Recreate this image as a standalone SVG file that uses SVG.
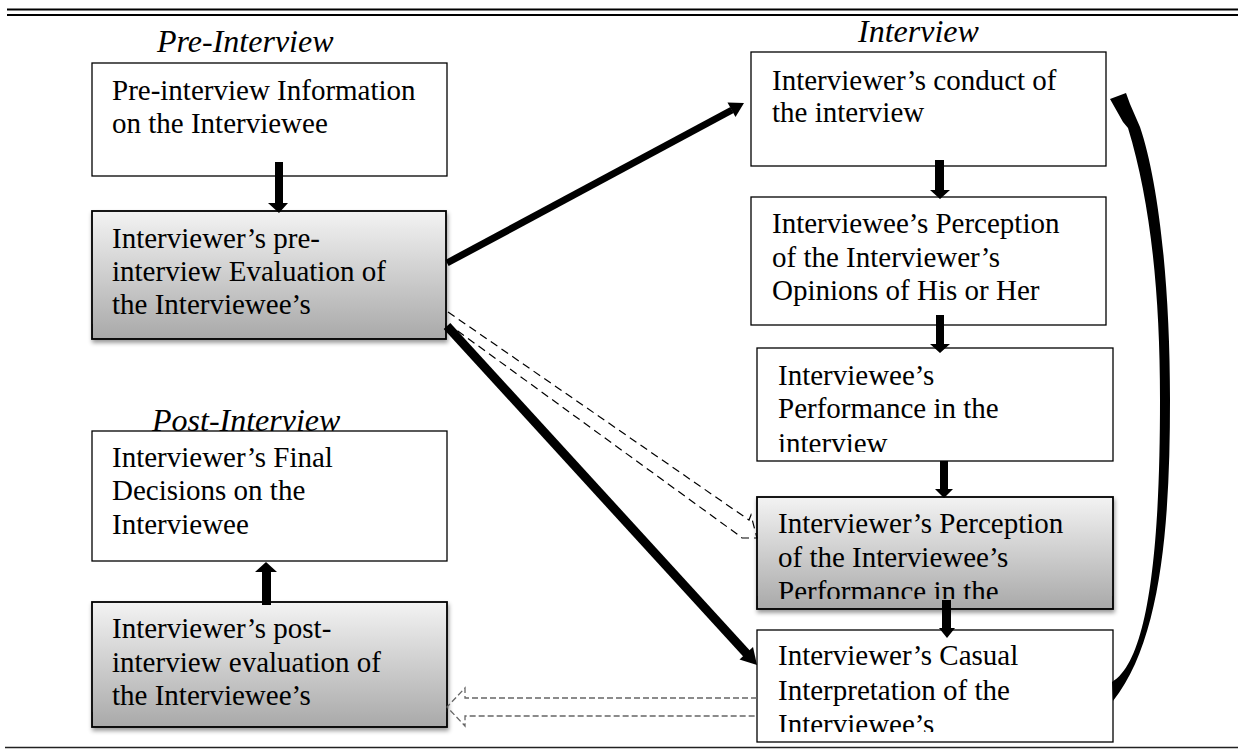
<svg xmlns="http://www.w3.org/2000/svg" width="1238" height="749" viewBox="0 0 1238 749">
<style>
.box{fill:#fff;stroke:#000;stroke-width:1.3}
.gbox{fill:url(#g);stroke:#000;stroke-width:1.8;filter:url(#sh)}
.t{font-family:"Liberation Serif","Times New Roman",serif;font-size:29px;fill:#000}
.h{font-family:"Liberation Serif","Times New Roman",serif;font-size:32px;font-style:italic;fill:#000}
.blk{fill:#000}
.dash{fill:none;stroke:#000;stroke-width:1.2;stroke-dasharray:8 5}
.dashg{fill:none;stroke:#666;stroke-width:1.3;stroke-dasharray:6 3}
</style>
<defs>
<linearGradient id="g" x1="0" y1="0" x2="0" y2="1">
<stop offset="0" stop-color="#f3f3f3"/>
<stop offset="1" stop-color="#a9a9a9"/>
</linearGradient>
<filter id="sh" x="-5%" y="-5%" width="115%" height="125%">
<feDropShadow dx="1" dy="3" stdDeviation="2" flood-color="#000" flood-opacity="0.4"/>
</filter>
<clipPath id="c3"><rect x="757" y="348" width="356" height="104"/></clipPath>
<clipPath id="c4"><rect x="757" y="497" width="356" height="102"/></clipPath>
<clipPath id="c5"><rect x="757" y="630" width="356" height="102"/></clipPath>
</defs>
<rect width="1238" height="749" fill="#fff"/>
<g id="rules">
<line x1="7" y1="9.5" x2="1238" y2="9.5" stroke="#000" stroke-width="2.2"/>
<line x1="7" y1="15" x2="1238" y2="15" stroke="#000" stroke-width="2.2"/>
<line x1="5" y1="747.5" x2="1238" y2="747.5" stroke="#222" stroke-width="1.5"/>
</g>
<g id="titles">
<text class="h" x="157" y="52">Pre-Interview</text>
<text class="h" x="858" y="42">Interview</text>
<text class="h" x="152" y="431">Post-Interview</text>
</g>
<g id="n-preinfo">
<rect class="box" x="92" y="63" width="355" height="113"/>
<text class="t" x="112" y="100">Pre-interview Information</text>
<text class="t" x="112" y="133">on the Interviewee</text>
</g>
<g id="n-preeval">
<rect class="gbox" x="92" y="211" width="354" height="128"/>
<text class="t" x="112" y="248">Interviewer’s pre-</text>
<text class="t" x="112" y="281">interview Evaluation of</text>
<text class="t" x="112" y="314">the Interviewee’s</text>
</g>
<g id="n-final">
<rect class="box" x="92" y="431" width="355" height="130"/>
<text class="t" x="112" y="467">Interviewer’s Final</text>
<text class="t" x="112" y="500">Decisions on the</text>
<text class="t" x="112" y="534">Interviewee</text>
</g>
<g id="n-posteval">
<rect class="gbox" x="92" y="602" width="355" height="125"/>
<text class="t" x="112" y="638">Interviewer’s post-</text>
<text class="t" x="112" y="672">interview evaluation of</text>
<text class="t" x="112" y="705">the Interviewee’s</text>
</g>
<g id="n-conduct">
<rect class="box" x="751" y="52" width="355" height="114"/>
<text class="t" x="772" y="90">Interviewer’s conduct of</text>
<text class="t" x="772" y="122">the interview</text>
</g>
<g id="n-eeperc">
<rect class="box" x="751" y="197" width="355" height="128"/>
<text class="t" x="772" y="233">Interviewee’s Perception</text>
<text class="t" x="772" y="267">of the Interviewer’s</text>
<text class="t" x="772" y="300">Opinions of His or Her</text>
</g>
<g id="n-perf">
<rect class="box" x="757" y="348" width="356" height="113"/>
<g clip-path="url(#c3)">
<text class="t" x="778" y="385">Interviewee’s</text>
<text class="t" x="778" y="418">Performance in the</text>
<text class="t" x="778" y="453">interview</text>
</g>
</g>
<g id="n-erperc">
<rect class="gbox" x="757" y="497" width="356" height="112"/>
<g clip-path="url(#c4)">
<text class="t" x="778" y="533">Interviewer’s Perception</text>
<text class="t" x="778" y="567">of the Interviewee’s</text>
<text class="t" x="778" y="601">Performance in the</text>
</g>
</g>
<g id="n-casual">
<rect class="box" x="757" y="630" width="356" height="112"/>
<g clip-path="url(#c5)">
<text class="t" x="778" y="665">Interviewer’s Casual</text>
<text class="t" x="778" y="700">Interpretation of the</text>
<text class="t" x="778" y="734">Interviewee’s</text>
</g>
</g>
<g id="connectors">
<polygon class="blk" points="275,162 283,162 283,203 288,203 279,213 268,203 275,203"/>
<polygon class="blk" points="935,160 944,160 944,190 950,190 940,199 930,190 935,190"/>
<polygon class="blk" points="936,315 944,315 944,344 950,344 940,353 930,344 936,344"/>
<polygon class="blk" points="940,461 948,461 948,489 953,489 944,498 935,489 940,489"/>
<polygon class="blk" points="942,600 951,600 951,628 955,628 947,638 939,628 942,628"/>
<polygon class="blk" points="262,605 271,605 271,572 277,572 266,562 255,572 262,572"/>
<line x1="447" y1="263" x2="732" y2="110" stroke="#000" stroke-width="7"/>
<polygon class="blk" points="744,103 727.5,102.5 735.5,117"/>
<line x1="447" y1="326" x2="747" y2="654" stroke="#000" stroke-width="9"/>
<polygon class="blk" points="757,665 739.5,659.5 753,647"/>
<polyline class="dash" points="448,312 749,520 751,515 757,538 742,538 737,534 455,329"/>
<polyline class="dashg" points="757,698 465,698 465,688 447,707 465,726 465,716 757,716"/>
<path class="blk" d="M1110,99 L1126,93 L1130,104 L1140,127 C1158,180 1170,280 1170,400 C1170,520 1162,640 1113,701 L1112,682 C1150,660 1160,540 1160,400 C1160,290 1150,200 1128,128 L1123,122 Z"/>
</g>
</svg>
